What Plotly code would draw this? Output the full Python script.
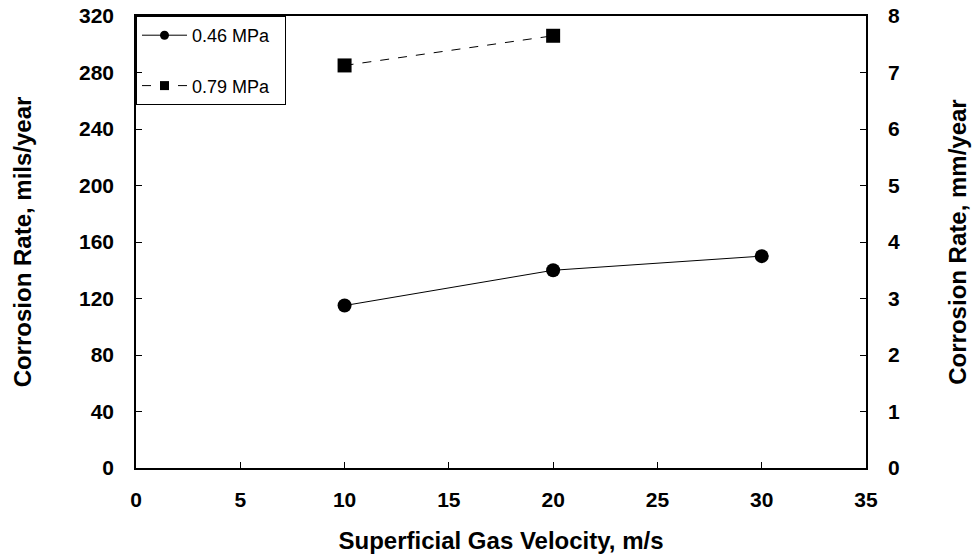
import plotly.graph_objects as go

velocity_046 = [10, 20, 30]
rate_046 = [115, 140, 150]
velocity_079 = [10, 20]
rate_079 = [285, 306]
series_names = ["0.46 MPa", "0.79 MPa"]

x_ticks = [0, 5, 10, 15, 20, 25, 30, 35]
y_ticks_mils = [0, 40, 80, 120, 160, 200, 240, 280, 320]
y_ticks_mm = [0, 1, 2, 3, 4, 5, 6, 7, 8]

FONT = "Liberation Sans, Arial, sans-serif"
TITLE_FONT = dict(family=FONT, size=24, color="black", weight="bold")
PAD = "\u00a0\u00a0"

fig = go.Figure()
fig.add_trace(go.Scatter(
    x=velocity_046, y=rate_046, name=series_names[0], mode="lines+markers",
    line=dict(color="black", width=1),
    marker=dict(symbol="circle", size=14, color="black"),
    showlegend=False,
))
fig.add_trace(go.Scatter(
    x=velocity_079, y=rate_079, name=series_names[1], mode="lines+markers",
    line=dict(color="black", width=1, dash="dash"),
    marker=dict(symbol="square", size=14, color="black"),
    showlegend=False,
))
# legend entries (smaller symbols, like the original key)
fig.add_trace(go.Scatter(
    x=[None], y=[None], name=series_names[0] + PAD, mode="lines+markers",
    line=dict(color="black", width=1),
    marker=dict(symbol="circle", size=9, color="black"),
    legendgroup="a",
))
fig.add_trace(go.Scatter(
    x=[None], y=[None], name=series_names[1] + PAD, mode="lines+markers",
    line=dict(color="black", width=1, dash="dash"),
    marker=dict(symbol="square", size=9, color="black"),
    legendgroup="b",
))
# invisible trace to carry the secondary (mm/year) axis
fig.add_trace(go.Scatter(
    x=[x_ticks[0]], y=[y_ticks_mm[0]], yaxis="y2", mode="markers",
    marker=dict(opacity=0), showlegend=False, hoverinfo="skip",
))

axis_common = dict(
    showgrid=False, zeroline=False, showline=True, linecolor="black", linewidth=1.5,
    ticks="inside", ticklen=6, tickcolor="black", tickwidth=1, automargin=False,
    tickfont=dict(family=FONT, size=21, color="black", weight="bold"),
)

fig.update_layout(
    width=976, height=559,
    margin=dict(l=136, r=110, t=16, b=91),
    paper_bgcolor="white", plot_bgcolor="white",
    font=dict(family=FONT, color="black"),
    xaxis=dict(
        range=[0, 35], tickvals=x_ticks, mirror=True,
        title=dict(text="Superficial Gas Velocity, m/s", font=TITLE_FONT, standoff=22),
        ticklabelstandoff=12,
        **axis_common,
    ),
    yaxis=dict(
        range=[0, 320], tickvals=y_ticks_mils,
        title=dict(text="Corrosion Rate, mils/year", font=TITLE_FONT, standoff=41),
        ticklabelstandoff=16,
        **axis_common,
    ),
    yaxis2=dict(
        range=[0, 8], tickvals=y_ticks_mm, overlaying="y", side="right",
        title=dict(text="Corrosion Rate, mm/year", font=TITLE_FONT, standoff=50),
        ticklabelstandoff=16,
        **axis_common,
    ),
    legend=dict(
        x=0, y=1, xanchor="left", yanchor="top",
        bgcolor="rgba(255,255,255,0)", bordercolor="black", borderwidth=1,
        font=dict(family=FONT, size=18, color="black"),
        tracegroupgap=24, traceorder="grouped",
        itemwidth=45,
    ),
    showlegend=True,
)

fig.write_html("out.html", post_script="document.body.style.margin='0';",
               config={"displayModeBar": False})
